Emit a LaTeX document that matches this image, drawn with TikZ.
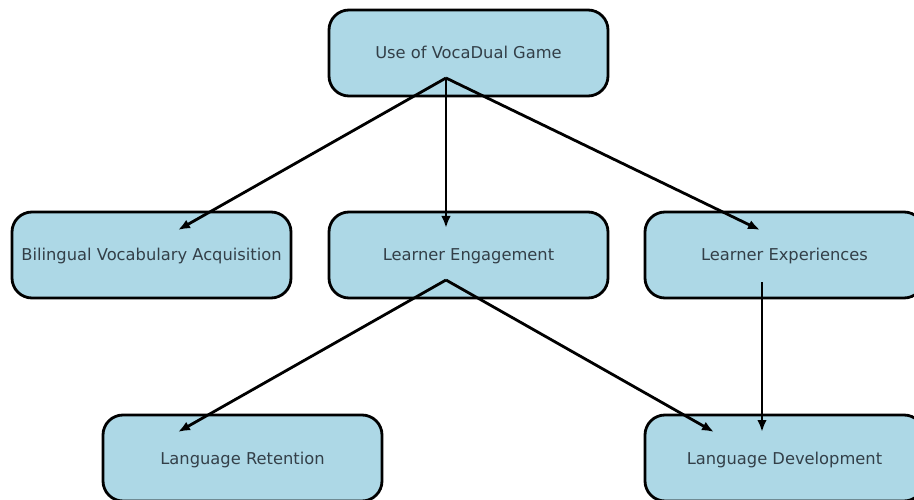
\documentclass[tikz,border=0pt]{standalone}
\usepackage{fontspec}
\setmainfont{DejaVu Sans}
\usetikzlibrary{positioning, arrows.meta, calc}
\definecolor{boxfill}{HTML}{ADD8E6}
\definecolor{boxtext}{HTML}{333F48}
\tikzset{
	>={Latex[length=12pt,width=9.5pt]},
	topic/.style={draw=black, line width=2.8pt, fill=boxfill, rounded corners=20pt,
		minimum width=279pt, minimum height=86pt, text=boxtext,
		text height=12pt, text depth=0pt,
		font=\fontsize{16.3}{19}\selectfont},
	link/.style={->, line width=2.8pt, black}
}

\begin{document}
\begin{tikzpicture}[x=1pt, y=-1pt]
		\useasboundingbox (0,0) rectangle (914,500);
		% Boxes
		\node[topic] (use) at (468.5,53) {Use of VocaDual Game};
		\node[topic] (vocab) at (151.5,255) {Bilingual Vocabulary Acquisition};
		\node[topic] (engage) at (468.5,255) {Learner Engagement};
		\node[topic] (exper) at (784.5,255) {Learner Experiences};
		\node[topic] (retain) at (242.5,458) {Language Retention};
		\node[topic] (develop) at (784.5,458) {Language Development};
		% Arrow ends
		\coordinate (use-out) at ($(use)+(-22.5,25)$);
		\coordinate (engage-out) at ($(engage)+(-22.5,25)$);
		\coordinate (exper-out) at ($(exper)+(-22.5,27)$);
		\coordinate (vocab-in) at ($(vocab)+(26.5,-25)$);
		\coordinate (engage-in) at ($(engage)+(-22.5,-27)$);
		\coordinate (exper-in) at ($(exper)+(-24.5,-25)$);
		\coordinate (retain-in) at ($(retain)+(-64.5,-26)$);
		\coordinate (develop-in1) at ($(develop)+(-70.5,-26)$);
		\coordinate (develop-in2) at ($(develop)+(-22.5,-26)$);
		% Arrows
		\draw[link] (use-out) -- (vocab-in);
		\draw[link] (use-out) -- (engage-in);
		\draw[link] (use-out) -- (exper-in);
		\draw[link] (engage-out) -- (retain-in);
		\draw[link] (engage-out) -- (develop-in1);
		\draw[link] (exper-out) -- (develop-in2);
	\end{tikzpicture}
\end{document}
